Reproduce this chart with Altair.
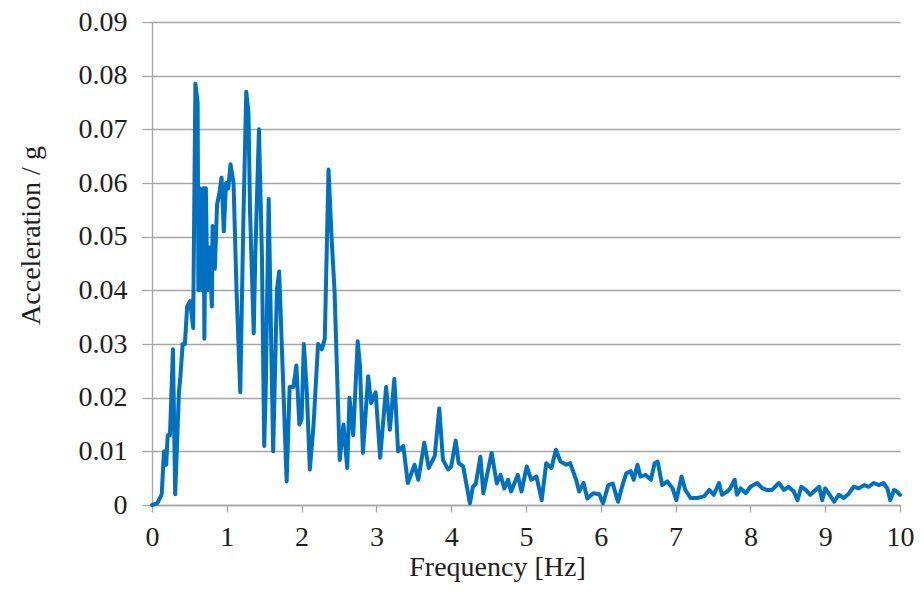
import altair as alt
import pandas as pd

freq_hz = [
    0.00, 0.07, 0.13, 0.16, 0.19, 0.21, 0.24, 0.28, 0.31, 0.36, 0.38, 0.41, 0.44, 0.47, 0.51, 0.55,
    0.58, 0.61, 0.62, 0.64, 0.67, 0.69, 0.70, 0.72, 0.74, 0.77, 0.80, 0.81, 0.84, 0.87, 0.90, 0.93,
    0.96, 0.99, 1.02, 1.05, 1.09, 1.13, 1.18, 1.22, 1.26, 1.29, 1.31, 1.36, 1.38, 1.43, 1.47, 1.50,
    1.52, 1.56, 1.59, 1.62, 1.67, 1.70, 1.75, 1.80, 1.84, 1.89, 1.93, 1.97, 2.00, 2.03, 2.07, 2.11,
    2.16, 2.22, 2.27, 2.31, 2.36, 2.40, 2.44, 2.51, 2.56, 2.61, 2.64, 2.69, 2.75, 2.78, 2.82, 2.89,
    2.93, 2.99, 3.05, 3.13, 3.18, 3.24, 3.29, 3.36, 3.42, 3.51, 3.56, 3.64, 3.70, 3.78, 3.84, 3.89,
    3.96, 4.00, 4.06, 4.10, 4.16, 4.25, 4.29, 4.33, 4.39, 4.43, 4.54, 4.61, 4.66, 4.71, 4.76, 4.80,
    4.89, 4.94, 5.01, 5.07, 5.14, 5.21, 5.27, 5.34, 5.40, 5.46, 5.54, 5.59, 5.67, 5.71, 5.77, 5.82,
    5.90, 5.98, 6.03, 6.10, 6.16, 6.23, 6.29, 6.34, 6.40, 6.44, 6.49, 6.53, 6.60, 6.67, 6.72, 6.76,
    6.82, 6.89, 6.96, 7.01, 7.08, 7.13, 7.20, 7.29, 7.38, 7.45, 7.51, 7.58, 7.62, 7.69, 7.73, 7.79,
    7.82, 7.87, 7.94, 8.00, 8.09, 8.16, 8.22, 8.29, 8.38, 8.45, 8.51, 8.58, 8.63, 8.68, 8.74, 8.80,
    8.87, 8.92, 8.96, 9.00, 9.06, 9.12, 9.18, 9.25, 9.32, 9.38, 9.45, 9.52, 9.58, 9.65, 9.72, 9.78,
    9.83, 9.87, 9.92, 9.96, 10.00,
]

accel_g = [
    0.0000, 0.0003, 0.0020, 0.0100, 0.0075, 0.0130, 0.0130, 0.0290, 0.0020, 0.0210, 0.0240, 0.0300,
    0.0300, 0.0370, 0.0380, 0.0330, 0.0785, 0.0750, 0.0400, 0.0590, 0.0400, 0.0590, 0.0310, 0.0590,
    0.0400, 0.0480, 0.0370, 0.0520, 0.0440, 0.0560, 0.0580, 0.0610, 0.0510, 0.0600, 0.0590, 0.0635,
    0.0600, 0.0400, 0.0210, 0.0520, 0.0770, 0.0730, 0.0550, 0.0320, 0.0460, 0.0700, 0.0460, 0.0110,
    0.0210, 0.0570, 0.0330, 0.0100, 0.0400, 0.0435, 0.0240, 0.0044, 0.0220, 0.0220, 0.0260, 0.0150,
    0.0160, 0.0300, 0.0210, 0.0066, 0.0150, 0.0300, 0.0290, 0.0310, 0.0625, 0.0500, 0.0400, 0.0084,
    0.0150, 0.0069, 0.0200, 0.0130, 0.0305, 0.0260, 0.0097, 0.0240, 0.0190, 0.0210, 0.0088, 0.0220,
    0.0140, 0.0235, 0.0100, 0.0110, 0.0041, 0.0075, 0.0047, 0.0116, 0.0069, 0.0091, 0.0180, 0.0084,
    0.0066, 0.0072, 0.0120, 0.0078, 0.0072, 0.0003, 0.0034, 0.0040, 0.0090, 0.0022, 0.0097, 0.0040,
    0.0056, 0.0031, 0.0047, 0.0025, 0.0056, 0.0025, 0.0072, 0.0047, 0.0053, 0.0009, 0.0078, 0.0069,
    0.0103, 0.0081, 0.0075, 0.0078, 0.0047, 0.0025, 0.0041, 0.0012, 0.0022, 0.0020, 0.0003, 0.0037,
    0.0040, 0.0006, 0.0037, 0.0059, 0.0063, 0.0047, 0.0075, 0.0053, 0.0056, 0.0047, 0.0078, 0.0081,
    0.0037, 0.0044, 0.0031, 0.0009, 0.0053, 0.0028, 0.0013, 0.0013, 0.0016, 0.0028, 0.0019, 0.0041,
    0.0019, 0.0025, 0.0031, 0.0047, 0.0019, 0.0031, 0.0022, 0.0034, 0.0041, 0.0031, 0.0028, 0.0028,
    0.0041, 0.0028, 0.0034, 0.0025, 0.0009, 0.0034, 0.0028, 0.0019, 0.0028, 0.0034, 0.0009, 0.0031,
    0.0019, 0.0006, 0.0019, 0.0013, 0.0022, 0.0034, 0.0031, 0.0037, 0.0034, 0.0041, 0.0037, 0.0041,
    0.0031, 0.0009, 0.0028, 0.0025, 0.0019,
]

x_ticks = [0, 1, 2, 3, 4, 5, 6, 7, 8, 9, 10]
y_ticks = [0, 0.01, 0.02, 0.03, 0.04, 0.05, 0.06, 0.07, 0.08, 0.09]

df = pd.DataFrame({"f": freq_hz, "a": accel_g})

FONT = "Liberation Serif"
GRID = "#a6a6a6"
TEXT = "#1e1e1e"

chart = (
    alt.Chart(df)
    .mark_line(color="#0070C0", strokeWidth=4, strokeJoin="round", strokeCap="round")
    .encode(
        x=alt.X(
            "f:Q",
            scale=alt.Scale(domain=[0, 10], nice=False, zero=True),
            axis=alt.Axis(
                title="Frequency [Hz]",
                values=x_ticks,
                grid=False,
                domainColor=GRID,
                domainWidth=1.3,
                tickColor=GRID,
                tickWidth=1.3,
                tickSize=7,
                labelPadding=11,
                labelFont=FONT,
                labelFontSize=28,
                labelColor=TEXT,
                labelFlush=False,
                titleFont=FONT,
                titleFontSize=28,
                titleFontWeight="normal",
                titleColor=TEXT,
                titleX=345,
                titleY=48,
                titleBaseline="top",
            ),
        ),
        y=alt.Y(
            "a:Q",
            scale=alt.Scale(domain=[0, 0.09], nice=False),
            axis=alt.Axis(
                title="Acceleration / g",
                values=y_ticks,
                labelExpr="datum.value == 0 ? '0' : format(datum.value, '.2f')",
                grid=True,
                gridColor=GRID,
                gridWidth=1.3,
                domainColor=GRID,
                domainWidth=1.3,
                tickColor=GRID,
                tickWidth=1.3,
                tickSize=10,
                labelPadding=15,
                labelFont=FONT,
                labelFontSize=28,
                labelColor=TEXT,
                labelFlush=False,
                titleFont=FONT,
                titleFontSize=28,
                titleFontWeight="normal",
                titleColor=TEXT,
                titleX=-107,
                titleY=213,
            ),
        ),
    )
    .properties(
        width=748,
        height=483,
        autosize=alt.AutoSizeParams(type="none"),
        padding={"left": 144, "top": 14, "right": 16, "bottom": 80},
    )
    .configure_view(strokeWidth=0)
)

chart.save("out.html", embed_options={"renderer": "svg", "actions": False})
